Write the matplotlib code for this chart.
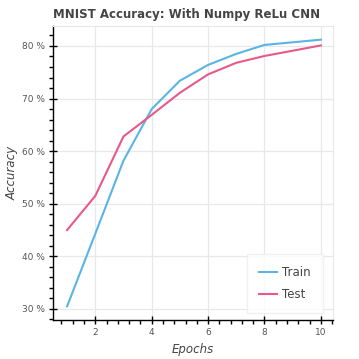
import matplotlib
matplotlib.use("Agg")
import matplotlib.pyplot as plt
from matplotlib.ticker import MultipleLocator, FuncFormatter

epochs = [1, 2, 3, 4, 5, 6, 7, 8, 9, 10]
train_acc = [30.5, 44.3, 58.2, 68.0, 73.4, 76.4, 78.5, 80.2, 80.7, 81.2]
test_acc = [45.0, 51.5, 62.8, 66.9, 71.1, 74.6, 76.8, 78.1, 79.1, 80.1]

fig = plt.figure(figsize=(3.59, 3.59), dpi=100)
ax = fig.add_axes([0.1476, 0.1086, 0.78, 0.819])

ax.plot(epochs, train_acc, color="#5ab4e6", lw=1.5, label="Train")
ax.plot(epochs, test_acc, color="#e8588a", lw=1.5, label="Test")

ax.set_xlim(0.5, 10.43)
ax.set_ylim(27.9, 83.8)

ax.xaxis.set_major_locator(MultipleLocator(2))
ax.xaxis.set_minor_locator(MultipleLocator(0.4))
ax.yaxis.set_major_locator(MultipleLocator(10))
ax.yaxis.set_minor_locator(MultipleLocator(2))
ax.yaxis.set_major_formatter(FuncFormatter(lambda v, p: "%d %%" % v))

ax.grid(True, which="major", color="#e8e8e8", lw=0.9)
ax.set_axisbelow(True)
for s in ["top", "right"]:
    ax.spines[s].set_color("#e8e8e8")
for s in ["left", "bottom"]:
    ax.spines[s].set_color("black")
    ax.spines[s].set_linewidth(1)

ax.tick_params(which="major", direction="inout", length=6, width=1, labelsize=6.5,
               labelcolor="#555555", pad=3)
ax.tick_params(which="minor", direction="out", length=3, width=1)

ax.set_title("MNIST Accuracy: With Numpy ReLu CNN", fontsize=8.5, fontweight="bold",
             color="#444444", loc="left", x=0.0, pad=6)
ax.set_xlabel("Epochs", fontsize=8.5, style="italic", color="#444444")
ax.set_ylabel("Accuracy", fontsize=8.5, style="italic", color="#444444", labelpad=2)

leg = ax.legend(loc="lower right", fontsize=8.5, frameon=True, fancybox=False,
                borderpad=1.0, handlelength=1.5, handletextpad=0.5, labelspacing=0.8,
                borderaxespad=0, bbox_to_anchor=(0.964, 0.024))
leg.get_frame().set_edgecolor("#eeeeee")
leg.get_frame().set_linewidth(1)
for t in leg.get_texts():
    t.set_color("#444444")

fig.savefig("out.png", dpi=100)
